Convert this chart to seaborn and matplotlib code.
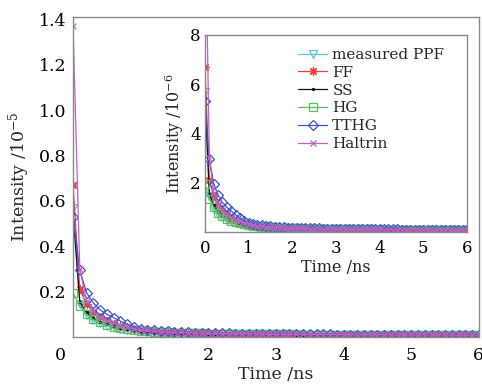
import numpy as np
import pandas as pd
import matplotlib
matplotlib.use("Agg")
import matplotlib.pyplot as plt
import seaborn as sns
from matplotlib.transforms import ScaledTranslation

# time axis (ns)
time_ns = [round(0.1 * i, 1) for i in range(61)]

# intensities in units of 1e-6
measured_ppf = [5.70, 1.45, 0.95, 0.73, 0.60, 0.50, 0.43, 0.37, 0.33, 0.29, 0.26,
                0.24, 0.22, 0.21, 0.20, 0.19, 0.18, 0.17, 0.16, 0.16, 0.15,
                0.15, 0.14, 0.14, 0.14, 0.13, 0.13, 0.13, 0.13, 0.12, 0.12,
                0.12, 0.12, 0.12, 0.11, 0.11, 0.11, 0.11, 0.11, 0.11, 0.10,
                0.10, 0.10, 0.10, 0.10, 0.10, 0.10, 0.09, 0.09, 0.09, 0.09,
                0.09, 0.09, 0.09, 0.09, 0.08, 0.08, 0.08, 0.08, 0.08, 0.08]
ff = [6.70, 2.10, 1.45, 1.08, 0.86, 0.70, 0.58, 0.49, 0.42, 0.36, 0.32,
      0.29, 0.26, 0.24, 0.22, 0.21, 0.20, 0.19, 0.18, 0.17, 0.16,
      0.16, 0.15, 0.15, 0.14, 0.14, 0.14, 0.13, 0.13, 0.13, 0.12,
      0.12, 0.12, 0.12, 0.12, 0.11, 0.11, 0.11, 0.11, 0.11, 0.11,
      0.10, 0.10, 0.10, 0.10, 0.10, 0.10, 0.10, 0.09, 0.09, 0.09,
      0.09, 0.09, 0.09, 0.09, 0.09, 0.08, 0.08, 0.08, 0.08, 0.08]
ss = [5.45, 1.55, 1.08, 0.83, 0.67, 0.56, 0.47, 0.40, 0.35, 0.31, 0.28,
      0.25, 0.23, 0.22, 0.20, 0.19, 0.18, 0.17, 0.17, 0.16, 0.15,
      0.15, 0.14, 0.14, 0.14, 0.13, 0.13, 0.13, 0.13, 0.12, 0.12,
      0.12, 0.12, 0.11, 0.11, 0.11, 0.11, 0.11, 0.11, 0.10, 0.10,
      0.10, 0.10, 0.10, 0.10, 0.10, 0.09, 0.09, 0.09, 0.09, 0.09,
      0.09, 0.09, 0.09, 0.08, 0.08, 0.08, 0.08, 0.08, 0.08, 0.08]
hg = [1.95, 1.35, 1.00, 0.78, 0.64, 0.54, 0.46, 0.40, 0.35, 0.31, 0.28,
      0.25, 0.23, 0.22, 0.20, 0.19, 0.18, 0.17, 0.17, 0.16, 0.15,
      0.15, 0.14, 0.14, 0.14, 0.13, 0.13, 0.13, 0.12, 0.12, 0.12,
      0.12, 0.12, 0.11, 0.11, 0.11, 0.11, 0.11, 0.11, 0.10, 0.10,
      0.10, 0.10, 0.10, 0.10, 0.10, 0.09, 0.09, 0.09, 0.09, 0.09,
      0.09, 0.09, 0.09, 0.08, 0.08, 0.08, 0.08, 0.08, 0.08, 0.08]
tthg = [5.30, 2.95, 1.95, 1.50, 1.20, 1.00, 0.85, 0.70, 0.57, 0.45, 0.37,
        0.33, 0.30, 0.27, 0.25, 0.23, 0.21, 0.20, 0.19, 0.18, 0.17,
        0.17, 0.16, 0.16, 0.15, 0.15, 0.15, 0.14, 0.14, 0.14, 0.13,
        0.13, 0.13, 0.13, 0.12, 0.12, 0.12, 0.12, 0.12, 0.11, 0.11,
        0.11, 0.11, 0.11, 0.11, 0.10, 0.10, 0.10, 0.10, 0.10, 0.10,
        0.10, 0.10, 0.09, 0.09, 0.09, 0.09, 0.09, 0.09, 0.09, 0.09]
haltrin = [13.70, 3.00, 1.60, 1.15, 0.90, 0.72, 0.60, 0.50, 0.43, 0.37, 0.32,
           0.29, 0.26, 0.24, 0.22, 0.21, 0.20, 0.19, 0.18, 0.17, 0.16,
           0.16, 0.15, 0.15, 0.14, 0.14, 0.14, 0.13, 0.13, 0.13, 0.12,
           0.12, 0.12, 0.12, 0.12, 0.11, 0.11, 0.11, 0.11, 0.11, 0.11,
           0.10, 0.10, 0.10, 0.10, 0.10, 0.10, 0.10, 0.09, 0.09, 0.09,
           0.09, 0.09, 0.09, 0.09, 0.09, 0.08, 0.08, 0.08, 0.08, 0.08]

series_names = ["measured PPF", "FF", "SS", "HG", "TTHG", "Haltrin"]
series_values = [measured_ppf, ff, ss, hg, tthg, haltrin]

main_xticks = [0, 1, 2, 3, 4, 5, 6]
main_yticks = [0.2, 0.4, 0.6, 0.8, 1.0, 1.2, 1.4]
main_ytick_labels = ["0.2", "0.4", "0.6", "0.8", "1.0", "1.2", "1.4"]
inset_xticks = [0, 1, 2, 3, 4, 5, 6]
inset_yticks = [2, 4, 6, 8]

styles = {
    "measured PPF": dict(color="#55c8dc", marker="v", ms=6, mfc="none", mew=0.9),
    "FF": dict(color="#f03c3c", marker=(8, 2, 0), ms=6, mfc="none", mew=0.9),
    "SS": dict(color="#111111", marker=".", ms=3, mew=0.9),
    "HG": dict(color="#5cc05c", marker="s", ms=6, mfc="none", mew=0.9),
    "TTHG": dict(color="#3a55c8", marker="D", ms=5.5, mfc="none", mew=0.9),
    "Haltrin": dict(color="#c060c8", marker="x", ms=4.5, mew=0.9),
}

sns.set_theme(style="white")
plt.rcParams["font.family"] = ["DejaVu Serif"]
plt.rcParams["mathtext.fontset"] = "dejavuserif"

fig = plt.figure(figsize=(4.82, 3.84), dpi=100)
ax = fig.add_axes([0.1515, 0.1224, 0.842, 0.8333])
axi = fig.add_axes([0.4253, 0.3958, 0.5436, 0.5131])

rows = []
for name, vals in zip(series_names, series_values):
    for t, v in zip(time_ns, vals):
        rows.append({"t": t, "v6": v, "v5": v / 10.0, "series": name})
df = pd.DataFrame(rows)

for name in series_names:
    sub = df[df["series"] == name]
    st = styles[name]
    kw = dict(color=st["color"], marker=st["marker"], markersize=st["ms"],
              markeredgewidth=st["mew"], linewidth=0.9, markeredgecolor=st["color"])
    if "mfc" in st:
        kw["markerfacecolor"] = st["mfc"]
    sns.lineplot(data=sub, x="t", y="v5", ax=ax, label=name, legend=False,
                 estimator=None, sort=False, **kw)
    sns.lineplot(data=sub, x="t", y="v6", ax=axi, label=name, legend=False,
                 estimator=None, sort=False, **kw)

spine_col = "#8a8a8a"
for a in (ax, axi):
    for s in a.spines.values():
        s.set_color(spine_col)
        s.set_linewidth(1.0)
    a.tick_params(length=0, colors="black")

ax.set_xlim(0, 6)
ax.set_ylim(0, 1.41)
ax.set_xticks(main_xticks)
ax.set_yticks(main_yticks)
ax.set_yticklabels(main_ytick_labels)
ax.tick_params(axis="y", labelsize=12.5, pad=5)
ax.tick_params(axis="x", labelsize=12.5, pad=7)
ax.set_xlabel("Time /ns", fontsize=12.5, labelpad=2)
ax.set_ylabel("Intensity /10$^{-5}$", fontsize=12.5, labelpad=5)
lab0 = ax.get_xticklabels()[0]
lab0.set_transform(lab0.get_transform() + ScaledTranslation(-0.13, 0, fig.dpi_scale_trans))

axi.set_xlim(0, 6)
axi.set_ylim(0, 8)
axi.set_xticks(inset_xticks)
axi.set_yticks(inset_yticks)
axi.tick_params(axis="both", labelsize=12)
axi.tick_params(axis="y", pad=3)
axi.tick_params(axis="x", pad=6)
axi.set_xlabel("Time /ns", fontsize=11.5, labelpad=1)
axi.set_ylabel("Intensity /10$^{-6}$", fontsize=11.5, labelpad=3)
axi.set_facecolor("white")

handles, labels = axi.get_legend_handles_labels()
fig.legend(handles, labels, loc="upper left", bbox_to_anchor=(298 / 482, 1 - 48 / 384),
           frameon=False, fontsize=11, labelspacing=0.25, handlelength=1.9,
           handletextpad=0.35, borderpad=0, borderaxespad=0)

fig.savefig("out.png", dpi=100, facecolor="white")
